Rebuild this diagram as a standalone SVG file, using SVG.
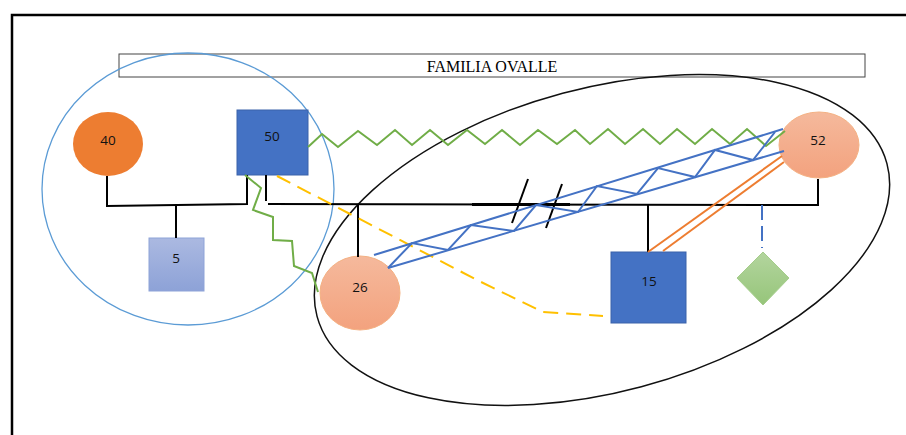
<svg xmlns="http://www.w3.org/2000/svg" width="906" height="435" viewBox="0 0 906 435">
<defs>
<linearGradient id="gSalmon" x1="0" y1="0" x2="0" y2="1"><stop offset="0" stop-color="#F5B99C"/><stop offset="1" stop-color="#F3A27E"/></linearGradient>
<linearGradient id="gLight" x1="0" y1="0" x2="0" y2="1"><stop offset="0" stop-color="#ABB9E1"/><stop offset="1" stop-color="#8DA2D7"/></linearGradient>
<linearGradient id="gGreen" x1="0" y1="0" x2="0" y2="1"><stop offset="0" stop-color="#B3D59E"/><stop offset="1" stop-color="#96C57A"/></linearGradient>
<style>
.num{font-family:"Open Sans","Liberation Sans",sans-serif;font-size:13.5px;fill:#111;text-anchor:middle}
.blk{stroke:#000;stroke-width:2;fill:none}
.grn{stroke:#70AD47;stroke-width:2;fill:none;stroke-linejoin:miter}
.blu{stroke:#4472C4;stroke-width:2;fill:none}
.org{stroke:#ED7D31;stroke-width:2;fill:none}
</style>
</defs>
<rect width="906" height="435" fill="#fff"/>
<path d="M12,437 V15 H908" fill="none" stroke="#000" stroke-width="2.5"/>
<g id="title">
<rect x="119" y="54" width="746" height="23" fill="#fff" stroke="#444" stroke-width="1"/>
<text x="492" y="72" font-family="Liberation Serif,serif" font-size="16" text-anchor="middle" fill="#000">FAMILIA OVALLE</text>
</g>
<g id="groups">
<ellipse cx="188" cy="189" rx="146" ry="136" fill="none" stroke="#5B9BD5" stroke-width="1.3"/>
<ellipse cx="602" cy="240" rx="295" ry="152" transform="rotate(-15 602 240)" fill="none" stroke="#111" stroke-width="1.5"/>
</g>
<g id="n40"><ellipse cx="108" cy="144" rx="35" ry="32" fill="#ED7D31"/><text class="num" x="108" y="145">40</text></g>
<g id="n50"><rect x="237" y="110" width="71" height="65" fill="#4472C4" stroke="#3A62AA" stroke-width="1"/><text class="num" x="272" y="141">50</text></g>
<g id="n5"><rect x="149" y="238" width="55" height="53" fill="url(#gLight)" stroke="#8EA3D8" stroke-width="1"/><text class="num" x="176" y="263">5</text></g>
<g id="n26"><ellipse cx="360" cy="293" rx="40" ry="37" fill="url(#gSalmon)" stroke="#F4B183" stroke-width="1"/><text class="num" x="360" y="292">26</text></g>
<g id="n52"><ellipse cx="819" cy="145" rx="40" ry="33" fill="url(#gSalmon)" stroke="#F4B183" stroke-width="1"/><text class="num" x="818" y="145">52</text></g>
<g id="n15"><rect x="611" y="252" width="75" height="71" fill="#4472C4" stroke="#3A62AA" stroke-width="1"/><text class="num" x="649" y="286">15</text></g>
<g id="nDiamond"><polygon points="763,252 789,278 763,305 737,278" fill="url(#gGreen)" stroke="#A5CD8B" stroke-width="1"/></g>
<g id="connectors">
<polyline class="blk" points="107,176 107,206 247,204 247,175"/>
<line class="blk" x1="176" y1="206" x2="176" y2="238"/>
<line class="blk" x1="266" y1="175" x2="266" y2="201"/>
<polyline class="blk" points="268,204 818,205 818,179"/>
<line class="blk" x1="358" y1="204" x2="358" y2="257"/>
<line class="blk" x1="648" y1="205" x2="648" y2="252"/>
<line x1="472" y1="204.5" x2="570" y2="204.5" stroke="#000" stroke-width="3.2"/>
<line class="blk" x1="528" y1="179" x2="512" y2="223"/>
<line class="blk" x1="562" y1="184" x2="546" y2="228"/>
<line x1="762" y1="205" x2="762" y2="248" stroke="#4472C4" stroke-width="2" stroke-dasharray="15 6"/>
<polyline class="grn" points="308,147 322,134 338,147 358,131 377,145 395,130 412,145 430,130 448,145 467,130 485,144 502,130 520,145 538,130 557,144 575,130 590,144 608,129 625,144 643,129 660,144 677,129 695,144 712,129 730,144 747,129 766,146 785,131"/>
<polyline class="grn" points="245,175 261,188 253,210 273,217 273,240 292,241 294,266 312,273 318,292"/>
<polyline points="277,176 477,280 543,312 603,316" fill="none" stroke="#FFC000" stroke-width="2" stroke-dasharray="15 8"/>
<line class="blu" x1="374" y1="255" x2="783" y2="129"/>
<line class="blu" x1="388" y1="268" x2="784" y2="151"/>
<polyline class="blu" points="388,268 412,243 448,250 471,225 514,231 536,205 578,212 597,186 637,194 658,168 695,177 715,150 753,160 775,132"/>
<line class="org" x1="648" y1="252" x2="782" y2="156"/>
<line class="org" x1="663" y1="251" x2="784" y2="162"/>
</g>
</svg>
